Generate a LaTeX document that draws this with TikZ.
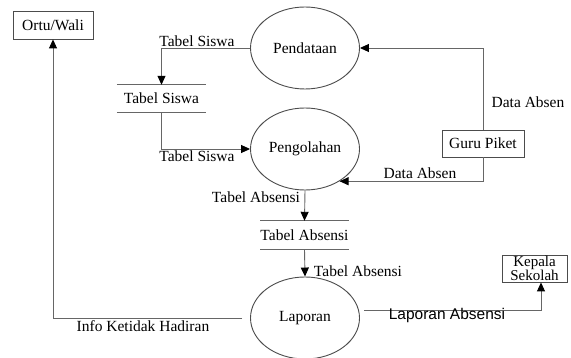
\documentclass[tikz,border=0pt]{standalone}
\usepackage{fontspec}
\setmainfont{Liberation Serif}
\newfontfamily\arialf{Liberation Sans}
\usetikzlibrary{arrows.meta,shapes.geometric}
\begin{document}
\begin{tikzpicture}[x=1pt,y=-1pt,
  every node/.style={font=\fontsize{15.5}{18}\selectfont, inner sep=0pt},
  conn/.style={draw=black!60, line width=0.9pt},
  arr/.style={conn, -{Triangle[length=9pt,width=8pt,color=black]}},
  proc/.style={ellipse, draw=black!70, line width=0.9pt, minimum width=109pt, minimum height=82pt},
  ent/.style={rectangle, draw=black!70, line width=0.9pt, align=center},
  store/.style={minimum width=89pt, minimum height=27pt},
  lbl/.style={}]
\fill[white] (0,0) rectangle (571,358);
\useasboundingbox (0,0) rectangle (571,358);

% processes
\node[proc] (pend) at (305,48) {Pendataan};
\node[proc] (peng) at (305,149) {Pengolahan};
\node[proc] (lap) at (305,318) {Laporan};

% entities
\node[ent, minimum width=80pt, minimum height=28pt] (ow) at (53,25) {Ortu/Wali};
\node[ent, minimum width=82pt, minimum height=27pt] (gp) at (483,143.5) {Guru Piket};
\node[ent, minimum width=65pt, minimum height=27pt, font=\fontsize{15}{13}\selectfont] (ks) at (534.5,268.5) {Kepala\\Sekolah};

% data stores
\node[store] (ts) at (161.5,98.5) {Tabel Siswa};
\node[store, minimum width=88pt, minimum height=28pt] (ta) at (304.5,235) {Tabel Absensi};
\draw[conn] (ts.north west) -- (ts.north east) (ts.south west) -- (ts.south east);
\draw[conn] (ta.north west) -- (ta.north east) (ta.south west) -- (ta.south east);

% flows
\draw[arr] (pend.west) -| (ts.north);
\draw[arr] (ts.south) |- (peng.west);
\draw[arr] (gp.north) |- (pend.east);
\draw[arr] (gp.south) |- (peng.-43);
\draw[arr] (peng.south) -- (ta.north);
\draw[arr] (ta.south) -- (lap.north);
\draw[arr, shorten <=8pt] (lap.west) -| (ow.south);
\draw[arr, shorten <=5pt] (lap.8) -| ([xshift=6.5pt]ks.south);

% labels
\node at (197,41) {Tabel Siswa};
\node at (197,156) {Tabel Siswa};
\node at (528,102) {Data Absen};
\node at (420,173) {Data Absen};
\node at (256,197) {Tabel Absensi};
\node at (358,271) {Tabel Absensi};
\node[font=\arialf\fontsize{15.5}{18}\selectfont] at (447,315) {Laporan Absensi};
\node at (143,326) {Info Ketidak Hadiran};
\end{tikzpicture}
\end{document}
